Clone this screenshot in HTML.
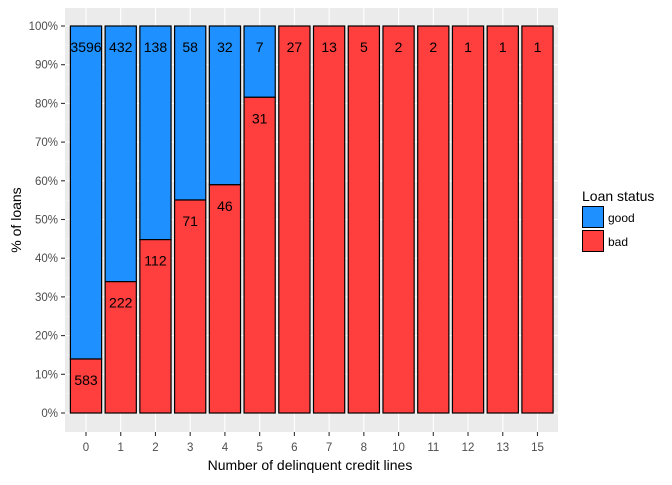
<!DOCTYPE html>
<html><head><meta charset="utf-8"><style>
body{margin:0;background:#fff;font-family:"Liberation Sans",Arial,sans-serif}
svg text{font-family:"Liberation Sans",Arial,sans-serif}
</style></head><body>
<svg id="chart" width="672" height="480" xmlns="http://www.w3.org/2000/svg">
<rect width="672" height="480" fill="#fff"/>
<rect x="65" y="8" width="493" height="424" fill="#EBEBEB"/>
<g id="grid"></g>
<g id="bars"></g>
<g id="axes"></g>
<text x="310" y="470" text-anchor="middle" font-size="14" fill="#000">Number of delinquent credit lines</text>
<text transform="translate(21,220) rotate(-90)" text-anchor="middle" font-size="14" fill="#000">% of loans</text>
<g>
<text x="582" y="201" font-size="14" fill="#000">Loan status</text>
<rect x="582.5" y="206.5" width="21" height="21" fill="#1E90FF" stroke="#000"/>
<text x="608" y="222" font-size="12" fill="#000">good</text>
<rect x="582.5" y="230.5" width="21" height="21" fill="#FF3E3E" stroke="#000"/>
<text x="608" y="246" font-size="12" fill="#000">bad</text>
</g>
</svg>
<script>
const categories=["0","1","2","3","4","5","6","7","8","10","11","12","13","15"];
const goodCounts=[3596,432,138,58,32,7,0,0,0,0,0,0,0,0];
const badCounts=[583,222,112,71,46,31,27,13,5,2,2,1,1,1];
const yTicks=[0,10,20,30,40,50,60,70,80,90,100];
const NS="http://www.w3.org/2000/svg";
const y0=413,y100=26,px0=86,step=34.73,bw=31.2;
const yScale=p=>y0-(y0-y100)*p/100;
const xScale=i=>px0+i*step;
function mk(tag,attrs,parent){const e=document.createElementNS(NS,tag);for(const k in attrs)e.setAttribute(k,attrs[k]);parent.appendChild(e);return e;}
const grid=document.getElementById('grid'),bars=document.getElementById('bars'),axes=document.getElementById('axes');
for(let v=5;v<100;v+=10){const l=mk('line',{x1:65,x2:558,y1:yScale(v),y2:yScale(v),stroke:'#F5F5F5','stroke-width':0.6},grid);

}
yTicks.forEach(v=>{const y=yScale(v);
const l=mk('line',{x1:65,x2:558,y1:y,y2:y,stroke:'#fff','stroke-width':1.1},grid);


const t=mk('line',{x1:61,x2:65,y1:y,y2:y,stroke:'#333','stroke-width':1.1},axes);


const tx=mk('text',{x:58,y:y+4,'text-anchor':'end','font-size':11.5,fill:'#4D4D4D'},axes);tx.textContent=v+'%';

});
categories.forEach((c,i)=>{const x=xScale(i);
const g=mk('line',{x1:x,x2:x,y1:8,y2:432,stroke:'#fff','stroke-width':1.1},grid);


const t=mk('line',{x1:x,x2:x,y1:432,y2:436,stroke:'#333','stroke-width':1.1},axes);


const tx=mk('text',{x:x,y:451,'text-anchor':'middle','font-size':11.5,fill:'#4D4D4D'},axes);tx.textContent=c;


const tot=goodCounts[i]+badCounts[i];const bp=100*badCounts[i]/tot;
const left=x-bw/2;
if(goodCounts[i]>0){const r=mk('rect',{x:left,y:yScale(100),width:bw,height:yScale(bp)-yScale(100),fill:'#1E90FF',stroke:'#000','stroke-width':1.2},bars);

}
const r2=mk('rect',{x:left,y:yScale(bp),width:bw,height:y0-yScale(bp),fill:'#FF3E3E',stroke:'#000','stroke-width':1.2},bars);


if(goodCounts[i]>0){const l=mk('text',{x:x,y:yScale(100)+26,'text-anchor':'middle','font-size':14,fill:'#000'},bars);l.textContent=goodCounts[i];

}
const l2=mk('text',{x:x,y:yScale(bp)+26,'text-anchor':'middle','font-size':14,fill:'#000'},bars);l2.textContent=badCounts[i];


});
</script>
</body></html>
